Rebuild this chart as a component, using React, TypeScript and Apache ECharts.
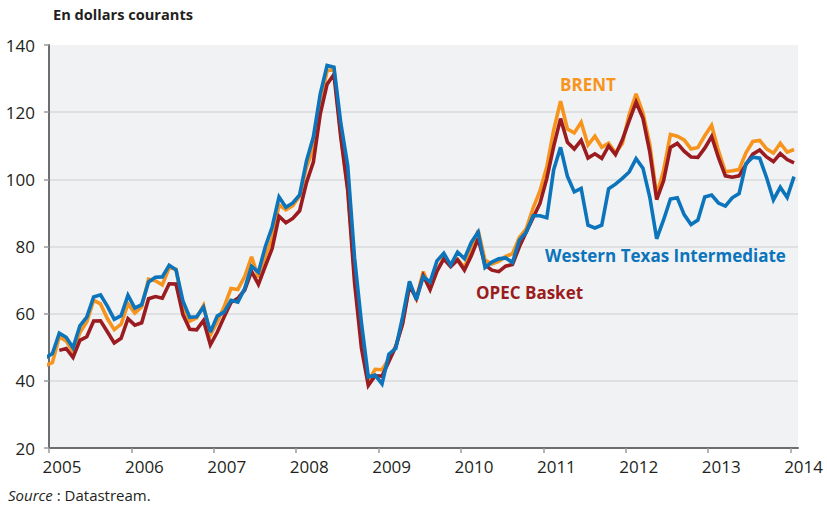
import React, { useEffect, useRef } from "react";
import * as echarts from "echarts";

// Monthly averages, Jan 2005 .. Feb 2014 (US$ per barrel)
const startYear = 2005;
const brent = [
  44.51, 45.48, 53.10, 51.88, 48.65, 54.35, 57.52, 63.98, 62.91, 58.54, 55.24, 56.86,
  62.99, 60.21, 62.06, 70.26, 69.78, 68.56, 73.67, 73.23, 61.96, 57.81, 58.76, 62.47,
  53.68, 57.56, 62.05, 67.49, 67.21, 71.05, 76.93, 70.76, 77.17, 82.34, 92.41, 90.93,
  92.18, 94.99, 103.64, 109.07, 122.80, 132.32, 132.72, 113.24, 97.23, 71.58, 52.45, 39.95,
  43.44, 43.32, 46.54, 50.18, 57.30, 68.61, 64.44, 72.51, 67.65, 72.77, 76.66, 74.46,
  76.17, 73.75, 78.83, 84.82, 75.95, 74.76, 75.58, 77.04, 77.84, 82.67, 85.28, 91.45,
  96.52, 103.72, 114.64, 123.26, 114.99, 113.83, 116.97, 110.22, 112.83, 109.55, 110.77, 107.87,
  110.69, 119.33, 125.45, 119.75, 110.34, 95.16, 102.62, 113.36, 112.86, 111.71, 109.06, 109.49,
  112.96, 116.05, 108.47, 102.25, 102.56, 102.92, 107.93, 111.28, 111.60, 109.08, 107.79, 110.76,
  108.12, 108.90,
];
const opec = [
  null, null, 49.07, 49.63, 46.96, 52.04, 53.13, 57.82, 57.88, 54.63, 51.29, 52.65,
  58.48, 56.57, 57.29, 64.44, 65.11, 64.60, 68.89, 68.81, 59.71, 55.38, 55.20, 57.96,
  50.73, 54.45, 59.02, 63.33, 64.55, 67.05, 72.60, 68.71, 74.18, 79.38, 88.99, 87.05,
  88.35, 90.64, 99.03, 105.16, 119.39, 128.33, 131.22, 112.41, 96.85, 69.16, 49.76, 38.60,
  41.52, 41.41, 45.78, 50.20, 56.98, 68.36, 64.59, 71.35, 67.17, 72.67, 76.29, 74.01,
  76.01, 72.99, 77.21, 82.33, 74.48, 72.95, 72.51, 74.15, 74.63, 79.93, 84.34, 88.56,
  92.83, 100.29, 109.84, 118.09, 111.05, 109.04, 111.62, 106.32, 107.61, 106.26, 109.96, 107.34,
  111.77, 117.48, 122.97, 118.18, 108.07, 93.98, 99.55, 109.52, 110.70, 108.36, 106.67, 106.55,
  109.28, 112.75, 106.44, 101.05, 100.65, 101.03, 104.45, 107.52, 108.73, 106.67, 105.29, 107.67,
  105.90, 104.90,
];
const wti = [
  46.84, 48.15, 54.19, 52.98, 49.83, 56.35, 59.00, 64.99, 65.59, 62.26, 58.32, 59.41,
  65.49, 61.63, 62.69, 69.44, 70.84, 70.95, 74.41, 73.04, 63.80, 58.89, 59.08, 61.96,
  54.51, 59.28, 60.44, 63.98, 63.46, 67.49, 74.12, 72.36, 79.92, 85.80, 94.77, 91.69,
  92.97, 95.39, 105.45, 112.58, 125.40, 133.88, 133.37, 116.67, 104.11, 76.61, 57.31, 41.12,
  41.71, 39.09, 47.94, 49.65, 59.03, 69.64, 64.15, 71.05, 69.41, 75.72, 77.99, 74.47,
  78.33, 76.39, 81.20, 84.29, 73.74, 75.34, 76.32, 76.60, 75.24, 81.89, 84.25, 89.15,
  89.17, 88.58, 102.86, 109.53, 100.90, 96.26, 97.30, 86.33, 85.52, 86.32, 97.16, 98.56,
  100.27, 102.20, 106.16, 103.32, 94.66, 82.30, 87.90, 94.13, 94.51, 89.49, 86.53, 87.86,
  94.76, 95.31, 92.94, 92.02, 94.51, 95.77, 104.67, 106.57, 106.29, 100.54, 93.86, 97.63,
  94.62, 100.82,
];
const yearTicks = [2005, 2006, 2007, 2008, 2009, 2010, 2011, 2012, 2013, 2014];
const yTicks = { min: 20, max: 140, step: 20 };

const BRENT_C = "#f7941d";
const OPEC_C = "#9b1c20";
const WTI_C = "#0b74bb";
const FONT = "'Open Sans', 'Noto Sans', sans-serif";

// each monthly average plotted at month position (k - 0.5)/12 after start
const toPairs = (arr: (number | null)[]) =>
  arr.map((v, k) => [startYear + (k - 0.5) / 12, v]);

export default function App() {
  const ref = useRef<HTMLDivElement>(null);
  useEffect(() => {
    if (!ref.current) return;
    const chart = echarts.init(ref.current, null, { renderer: "svg" });
    const lineStyle = (c: string) => ({ color: c, width: 3.6, join: "miter", miterLimit: 3 });
    chart.setOption({
      animation: false,
      backgroundColor: "#ffffff",
      grid: {
        left: 49,
        right: 29,
        top: 45,
        bottom: 57,
        show: true,
        backgroundColor: "#f1f2f4",
        borderWidth: 0,
      },
      xAxis: {
        type: "value",
        min: 2005,
        max: 2014.09,
        axisLine: { show: true, lineStyle: { color: "#6d6e71", width: 2 } },
        axisTick: {
          show: true,
          customValues: yearTicks,
          length: 5,
          lineStyle: { color: "#9a9b9d", width: 1.5 },
        },
        axisLabel: {
          customValues: yearTicks,
          formatter: (v: number) => String(Math.round(v)),
          fontFamily: FONT,
          fontSize: 17,
          color: "#231f20",
          margin: 10,
          padding: [0, 0, 0, 26],
        },
        splitLine: { show: false },
      },
      yAxis: {
        type: "value",
        min: yTicks.min,
        max: yTicks.max,
        interval: yTicks.step,
        axisLine: { show: true, lineStyle: { color: "#6d6e71", width: 2 } },
        axisTick: { show: true, length: 5, lineStyle: { color: "#9a9b9d", width: 1.5 } },
        axisLabel: {
          fontFamily: FONT,
          fontSize: 17,
          color: "#231f20",
          margin: 14,
          padding: [0, 0, 6, 0],
        },
        splitLine: {
          show: true,
          showMinLine: false,
          showMaxLine: false,
          lineStyle: { color: "#d9dadc", width: 1.5 },
        },
      },
      series: [
        {
          name: "BRENT",
          type: "line",
          data: toPairs(brent),
          showSymbol: false,
          clip: true,
          lineStyle: lineStyle(BRENT_C),
          itemStyle: { color: BRENT_C },
        },
        {
          name: "OPEC Basket",
          type: "line",
          data: toPairs(opec),
          showSymbol: false,
          clip: true,
          lineStyle: lineStyle(OPEC_C),
          itemStyle: { color: OPEC_C },
        },
        {
          name: "Western Texas Intermediate",
          type: "line",
          data: toPairs(wti),
          showSymbol: false,
          clip: true,
          lineStyle: lineStyle(WTI_C),
          itemStyle: { color: WTI_C },
        },
      ],
      graphic: [
        {
          type: "text",
          x: 53,
          y: 14,
          style: {
            text: "En dollars courants",
            fill: "#231f20",
            font: `bold 14.6px ${FONT}`,
            textVerticalAlign: "middle",
          },
        },
        {
          type: "text",
          x: 560,
          y: 84,
          style: {
            text: "BRENT",
            fill: BRENT_C,
            font: `bold 17px ${FONT}`,
            textVerticalAlign: "middle",
          },
        },
        {
          type: "text",
          x: 545,
          y: 255,
          style: {
            text: "Western Texas Intermediate",
            fill: WTI_C,
            font: `bold 17px ${FONT}`,
            textVerticalAlign: "middle",
          },
        },
        {
          type: "text",
          x: 476,
          y: 292,
          style: {
            text: "OPEC Basket",
            fill: OPEC_C,
            font: `bold 17px ${FONT}`,
            textVerticalAlign: "middle",
          },
        },
        {
          type: "text",
          x: 8,
          y: 495,
          style: {
            text: "{i|Source} : Datastream.",
            fill: "#231f20",
            font: `15px ${FONT}`,
            textVerticalAlign: "middle",
            rich: {
              i: { fontStyle: "italic", fontFamily: FONT, fontSize: 15, fill: "#231f20" },
            },
          },
        },
      ],
    });
    return () => chart.dispose();
  }, []);
  return (
    <div
      ref={ref}
      style={{ position: "fixed", left: 0, top: 0, width: 827, height: 505 }}
    />
  );
}
